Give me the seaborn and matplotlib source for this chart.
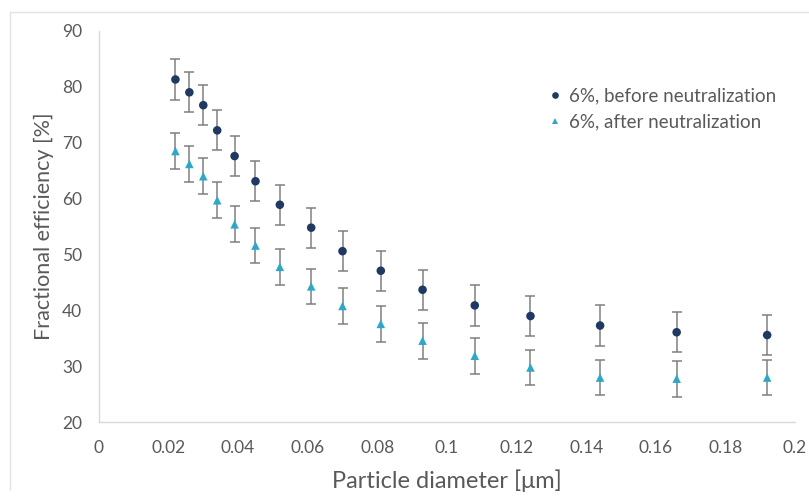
import numpy as np
import pandas as pd
import matplotlib
matplotlib.use("Agg")
import matplotlib.pyplot as plt
from matplotlib.lines import Line2D
import seaborn as sns

# Particle diameters [um]
diameter = [0.022, 0.026, 0.030, 0.034, 0.039, 0.045, 0.052, 0.061,
            0.070, 0.081, 0.093, 0.108, 0.124, 0.144, 0.166, 0.192]

# Fractional efficiency [%] before and after neutralization
eff_before = [81.3, 79.0, 76.7, 72.2, 67.6, 63.1, 58.9, 54.8,
              50.6, 47.1, 43.7, 40.9, 39.0, 37.3, 36.1, 35.6]
eff_after = [68.5, 66.2, 64.0, 59.7, 55.4, 51.6, 47.8, 44.3,
             40.8, 37.6, 34.6, 31.9, 29.8, 28.0, 27.8, 28.0]

# Error bar half-widths [%]
err_before = [3.6, 3.6, 3.6, 3.6, 3.6, 3.6, 3.6, 3.6,
              3.6, 3.6, 3.6, 3.6, 3.6, 3.6, 3.6, 3.6]
err_after = [3.2, 3.2, 3.2, 3.2, 3.2, 3.2, 3.2, 3.2,
             3.2, 3.2, 3.2, 3.2, 3.2, 3.2, 3.2, 3.2]

series_names = ["6%, before neutralization", "6%, after neutralization"]

x_ticks = [0, 0.02, 0.04, 0.06, 0.08, 0.1, 0.12, 0.14, 0.16, 0.18, 0.2]
x_ticklabels = ["0", "0.02", "0.04", "0.06", "0.08", "0.1", "0.12",
                "0.14", "0.16", "0.18", "0.2"]
y_ticks = [20, 30, 40, 50, 60, 70, 80, 90]

df = pd.DataFrame({
    "diameter": diameter * 2,
    "efficiency": eff_before + eff_after,
    "error": err_before + err_after,
    "series": [series_names[0]] * len(diameter) + [series_names[1]] * len(diameter),
})

sns.set_theme(style="white")
plt.rcParams["font.family"] = ["Lato", "DejaVu Sans"]

text_color = "#595959"
axis_color = "#d9d9d9"
colors = {series_names[0]: "#203864", series_names[1]: "#2ea8c8"}
markers = {series_names[0]: "o", series_names[1]: "^"}

W, H = 809, 497
fig = plt.figure(figsize=(W / 100, H / 100), dpi=100)
ax = fig.add_axes([0.1222, 0.1503, 0.8605, 0.7877])

# error bars first, underneath the markers
for name in series_names:
    sub = df[df["series"] == name]
    ax.errorbar(sub["diameter"], sub["efficiency"], yerr=sub["error"],
                fmt="none", ecolor="#808080", elinewidth=1.1,
                capsize=3.4, capthick=1.1, zorder=2)

sns.scatterplot(data=df, x="diameter", y="efficiency", hue="series",
                style="series", palette=colors, markers=markers,
                s=38, linewidth=0, ax=ax, zorder=3, legend=False)

ax.set_xlim(0, 0.2)
ax.set_ylim(20, 90)
ax.set_xticks(x_ticks)
ax.set_xticklabels(x_ticklabels)
ax.set_yticks(y_ticks)

ax.set_xlabel("Particle diameter [μm]", fontsize=17, color=text_color, labelpad=10)
ax.set_ylabel("Fractional efficiency [%]", fontsize=15.5, color=text_color, labelpad=6)

for side in ["top", "right"]:
    ax.spines[side].set_visible(False)
for side in ["left", "bottom"]:
    ax.spines[side].set_color(axis_color)
    ax.spines[side].set_linewidth(1.0)

ax.tick_params(axis="both", which="major", direction="out", length=4.5,
               width=1.0, color=axis_color, labelcolor=text_color,
               labelsize=12.5)
ax.tick_params(axis="x", pad=8)
ax.tick_params(axis="y", pad=7.5)
ax.grid(False)

handles = [
    Line2D([0], [0], marker="o", linestyle="none", markersize=4.8,
           markerfacecolor=colors[series_names[0]], markeredgewidth=0),
    Line2D([0], [0], marker="^", linestyle="none", markersize=4.8,
           markerfacecolor=colors[series_names[1]], markeredgewidth=0),
]
leg = fig.legend(handles, series_names, loc="upper left",
                 bbox_to_anchor=(547.5 / W, 1 - 87.5 / H), frameon=False,
                 fontsize=13.5, handlelength=0.8, handletextpad=0.35,
                 labelspacing=0.48, borderpad=0, borderaxespad=0,
                 labelcolor=text_color)

# light frame around the chart area
fig.add_artist(plt.Line2D([10 / W, 1.0], [1 - 12 / H, 1 - 12 / H],
                          transform=fig.transFigure, color="#e3e3e3", lw=1.0))
fig.add_artist(plt.Line2D([10 / W, 10 / W], [1 - 12 / H, 1 - 490 / H],
                          transform=fig.transFigure, color="#e3e3e3", lw=1.0))

fig.savefig("out.png", dpi=100)
